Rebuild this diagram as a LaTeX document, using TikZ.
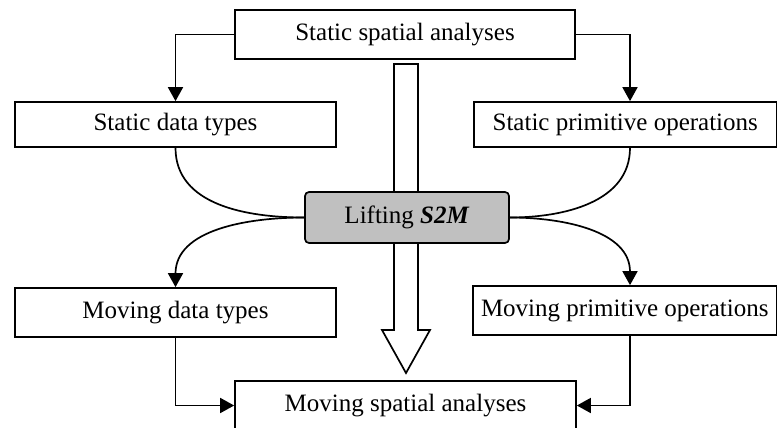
\documentclass[tikz,border=0pt]{standalone}
\usepackage{fontspec}
\setmainfont{Liberation Serif}
\usepackage{xcolor}
\usetikzlibrary{arrows.meta}
\definecolor{liftgray}{HTML}{C0C0C0}

\begin{document}
\begin{tikzpicture}[x=0.5pt,y=-0.5pt,
    box/.style={draw,line width=0.85pt,inner sep=0pt,minimum height=24.5pt,font=\fontsize{12.5}{15}\selectfont},
    conn/.style={line width=0.85pt,-{Triangle[width=7.5pt,length=7pt]}},
    link/.style={line width=0.85pt}]
    \useasboundingbox (0,0) rectangle (777,428);
    % hollow arrow behind the lifting box
    \draw[line width=0.85pt,fill=white] (394,64) -- (418,64) -- (418,330) -- (430,330) -- (406,373) -- (382,330) -- (394,330) -- cycle;

    \node[box,minimum width=170pt] (ssa) at (405,34.5) {Static spatial analyses};
    \node[box,minimum width=160.5pt,minimum height=22.5pt] (sdt) at (175.5,124.5) {Static data types};
    \node[box,minimum width=151.25pt,minimum height=22.5pt] (spo) at (625.25,124.5) {Static primitive operations};
    \node[box,fill=liftgray,rounded corners=2pt,minimum width=102pt,minimum height=25.5pt] (lift) at (407,217.5) {Lifting \textbf{\textit{S2M}}};
    \node[box,minimum width=160.5pt] (mdt) at (175.5,312.5) {Moving data types};
    \node[box,minimum width=151.75pt] (mpo) at (624.75,310.5) {Moving primitive operations};
    \node[box,minimum width=170.5pt] (msa) at (405.5,405.5) {Moving spatial analyses};

    \coordinate (rc) at (630,0);
    \draw[conn] (ssa.west) -| (sdt.north);
    \draw[conn] (ssa.east) -| (rc |- spo.north);
    \draw[link] (sdt.south) to[out=-90,in=180] (lift.west);
    \draw[link] (rc |- spo.south) to[out=-90,in=0] (lift.east);
    \draw[conn] (lift.west) to[out=180,in=90] (mdt.north);
    \draw[conn] (lift.east) to[out=0,in=90] (rc |- mpo.north);
    \draw[conn] (mdt.south) |- (msa.west);
    \draw[conn] (rc |- mpo.south) |- (msa.east);
\end{tikzpicture}
\end{document}
